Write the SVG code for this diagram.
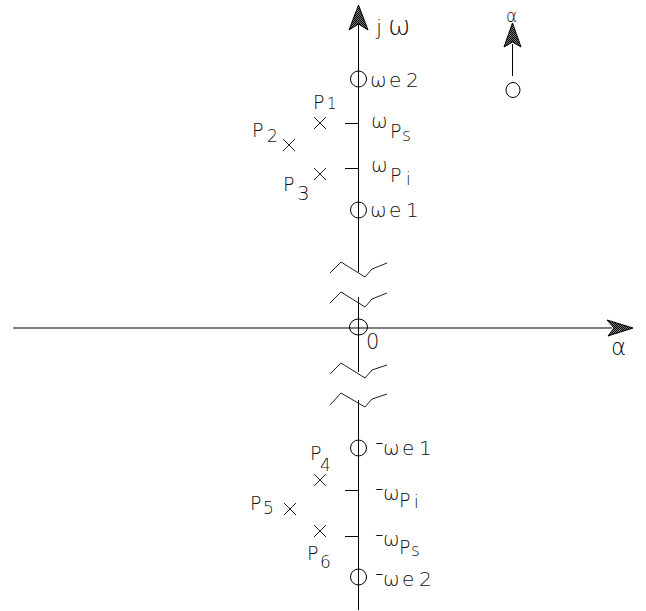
<svg xmlns="http://www.w3.org/2000/svg" width="646" height="611" viewBox="0 0 646 611">
<style>
  .ln{stroke:#000;stroke-width:1;fill:none}
  .brk{stroke:#222;stroke-width:1;fill:none;stroke-linejoin:miter}
  .zero{stroke:#000;stroke-width:1;fill:none}
  .pole{stroke:#222;stroke-width:1;fill:none}
  .tick{stroke:#000;stroke-width:1}
  .t{font-family:"DejaVu Sans","Liberation Sans",sans-serif;font-weight:200;fill:#111;font-size:20px}
  .pl{font-size:19px}
  .sb{font-size:17px}
  .dash{font-size:24px}
  .ah{fill:url(#chk);stroke:#000;stroke-width:1;stroke-linejoin:miter}
</style>
<defs>
  <pattern id="chk" patternUnits="userSpaceOnUse" width="2" height="2">
    <rect width="2" height="2" fill="#777"/>
    <rect width="1" height="1" fill="#000"/>
    <rect x="1" y="1" width="1" height="1" fill="#000"/>
  </pattern>
</defs>
<rect width="646" height="611" fill="#fff"/>

<g id="connectors">
  <line class="ln" x1="13" y1="328" x2="612" y2="328"/>
  <polygon class="ah" points="633,328 607,320 614,328 608,336"/>
  <line class="ln" x1="358.5" y1="20" x2="358.5" y2="272"/>
  <line class="ln" x1="358.5" y1="297" x2="358.5" y2="372"/>
  <line class="ln" x1="358.5" y1="400" x2="358.5" y2="610"/>
  <polygon class="ah" points="358.5,5 368,30 358.5,24 349,30"/>
  <line class="ln" x1="512.5" y1="44" x2="512.5" y2="76"/>
  <polygon class="ah" points="512.5,23 521,47 512.5,42 504,47"/>
</g>

<g id="breaks">
  <polyline class="brk" points="330,273 341,262 365,277 372,269 387,263"/>
  <polyline class="brk" points="330,303 341,292 365,307 372,299 387,293"/>
  <polyline class="brk" points="330,374 341,363 365,378 372,370 387,365"/>
  <polyline class="brk" points="330,405 341,393 365,407 372,399 387,394"/>
</g>

<g id="ticks">
  <line class="tick" x1="345" y1="123.5" x2="358" y2="123.5"/>
  <line class="tick" x1="345" y1="168.5" x2="358" y2="168.5"/>
  <line class="tick" x1="345" y1="490.5" x2="358" y2="490.5"/>
  <line class="tick" x1="345" y1="536.5" x2="358" y2="536.5"/>
</g>

<g id="axis-labels">
  <text class="t" style="font-size:22px" x="376" y="35">j<tspan style="font-size:27px" x="388" y="35">ω</tspan></text>
  <text class="t" style="font-size:23px" x="611" y="355">α</text>
</g>

<g id="legend">
  <ellipse class="zero" cx="513" cy="90" rx="7" ry="7.5"/>
  <text class="t" style="font-size:17px" x="506" y="22">α</text>
</g>

<g id="zero-we2">
  <circle class="zero" cx="358.5" cy="79" r="8"/>
  <text class="t" x="370 389 406" y="87">ωe2</text>
</g>
<g id="zero-we1">
  <circle class="zero" cx="358.5" cy="210" r="8"/>
  <text class="t" x="370 389 406" y="217">ωe1</text>
</g>
<g id="zero-origin">
  <ellipse class="zero" cx="358.5" cy="327" rx="9" ry="8"/>
  <text class="t" style="font-size:21px" x="366" y="349">0</text>
</g>
<g id="zero-mwe1">
  <circle class="zero" cx="358.5" cy="448" r="8"/>
  <text class="t" x="375" y="450"><tspan class="dash">-</tspan><tspan x="383" y="455">ω</tspan><tspan x="402" y="455">e</tspan><tspan x="419" y="455">1</tspan></text>
</g>
<g id="zero-mwe2">
  <circle class="zero" cx="358.5" cy="577" r="8"/>
  <text class="t" x="375" y="581"><tspan class="dash">-</tspan><tspan x="383" y="586">ω</tspan><tspan x="402" y="586">e</tspan><tspan x="419" y="586">2</tspan></text>
</g>

<g id="label-wps">
  <text class="t" x="371" y="128">ω<tspan class="pl" x="390" y="138">P</tspan><tspan class="sb" x="402" y="141">s</tspan></text>
</g>
<g id="label-wpi">
  <text class="t" x="371" y="172">ω<tspan class="pl" x="390" y="182">P</tspan><tspan class="sb" x="406" y="185">i</tspan></text>
</g>
<g id="label-mwpi">
  <text class="t" x="375" y="496"><tspan class="dash">-</tspan><tspan x="383" y="500">ω</tspan><tspan class="pl" x="399" y="507">P</tspan><tspan class="sb" x="414" y="508">i</tspan></text>
</g>
<g id="label-mwps">
  <text class="t" x="375" y="542"><tspan class="dash">-</tspan><tspan x="383" y="546">ω</tspan><tspan class="pl" x="399" y="554">P</tspan><tspan class="sb" x="411" y="556">s</tspan></text>
</g>

<g id="pole-p1">
  <path class="pole" d="M314,117 L326,129 M326,117 L314,129"/>
  <text class="t pl" x="313" y="109">P<tspan style="font-size:15px" x="327" y="109">1</tspan></text>
</g>
<g id="pole-p2">
  <path class="pole" d="M283,139 L295,151 M295,139 L283,151"/>
  <text class="t pl" x="252" y="137">P<tspan class="sb" x="267" y="142">2</tspan></text>
</g>
<g id="pole-p3">
  <path class="pole" d="M314,168 L326,180 M326,168 L314,180"/>
  <text class="t pl" x="283" y="191">P<tspan style="font-size:20px" x="297" y="200">3</tspan></text>
</g>
<g id="pole-p4">
  <path class="pole" d="M314,474 L326,486 M326,474 L314,486"/>
  <text class="t pl" x="310" y="460">P<tspan class="sb" x="320" y="471">4</tspan></text>
</g>
<g id="pole-p5">
  <path class="pole" d="M284,503 L296,515 M296,503 L284,515"/>
  <text class="t pl" x="250" y="510">P<tspan class="sb" x="263" y="514">5</tspan></text>
</g>
<g id="pole-p6">
  <path class="pole" d="M314,525 L326,537 M326,525 L314,537"/>
  <text class="t pl" x="307" y="560">P<tspan class="sb" x="320" y="568">6</tspan></text>
</g>
</svg>
